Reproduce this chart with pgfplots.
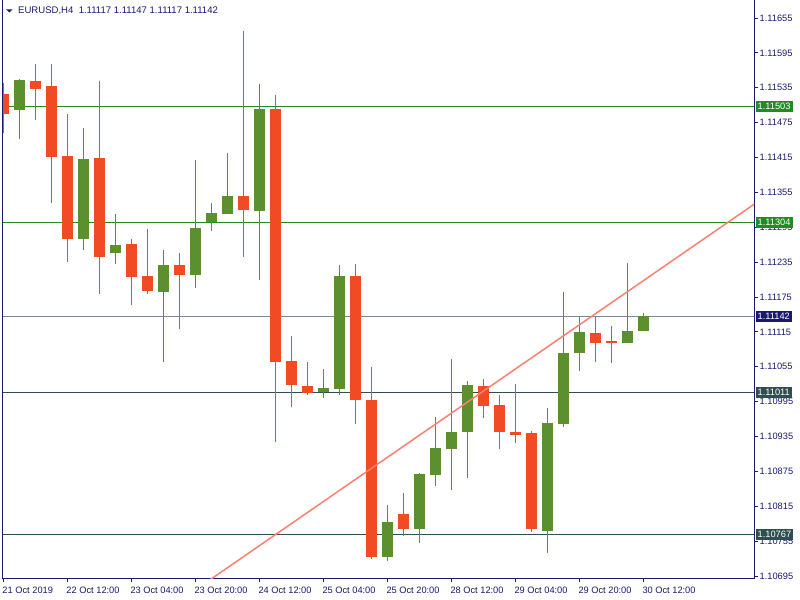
\documentclass[border=0pt]{standalone}
\usepackage{fontspec}
\setmainfont{Liberation Sans}
\usepackage{pgfplots}
\usepackage{pgfplotstable}
\pgfplotsset{compat=1.18}
\definecolor{cgreen}{RGB}{91,143,48}
\definecolor{cred}{RGB}{240,75,36}
\definecolor{lgreen}{RGB}{34,139,34}
\definecolor{slate}{RGB}{119,136,153}
\definecolor{dslate}{RGB}{47,79,79}
\definecolor{mnavy}{RGB}{25,25,112}
\definecolor{salmon}{RGB}{250,128,114}

\pgfplotstableread{
i o h l c
1 1.11497 1.11550 1.11446 1.11548
5 1.11275 1.11466 1.11256 1.11412
7 1.11250 1.11318 1.11232 1.11264
10 1.11184 1.11256 1.11064 1.11230
12 1.11213 1.11411 1.11191 1.11294
13 1.11304 1.11337 1.11289 1.11320
14 1.11318 1.11423 1.11318 1.11349
16 1.11323 1.11541 1.11205 1.11498
20 1.11012 1.11051 1.11002 1.11018
21 1.11016 1.11230 1.11007 1.11211
24 1.10728 1.10817 1.10721 1.10788
26 1.10775 1.10872 1.10752 1.10871
27 1.10868 1.10969 1.10849 1.10915
28 1.10914 1.11068 1.10843 1.10943
29 1.10942 1.11031 1.10864 1.11024
34 1.10773 1.10984 1.10735 1.10958
35 1.10957 1.11184 1.10952 1.11079
36 1.11079 1.11141 1.11047 1.11115
39 1.11095 1.11234 1.11095 1.11117
40 1.11117 1.11147 1.11117 1.11142
}\greentab

\pgfplotstableread{
i o h l c
0 1.11524 1.11544 1.11457 1.11490
2 1.11547 1.11576 1.11480 1.11533
3 1.11538 1.11576 1.11337 1.11416
4 1.11418 1.11490 1.11236 1.11274
6 1.11414 1.11547 1.11181 1.11243
8 1.11266 1.11275 1.11162 1.11210
9 1.11211 1.11292 1.11181 1.11186
11 1.11230 1.11251 1.11120 1.11212
15 1.11349 1.11633 1.11243 1.11325
17 1.11498 1.11522 1.10926 1.11063
18 1.11065 1.11108 1.10986 1.11024
19 1.11022 1.11063 1.11007 1.11010
22 1.11211 1.11232 1.10957 1.10998
23 1.10998 1.11055 1.10725 1.10728
25 1.10802 1.10838 1.10763 1.10775
30 1.11022 1.11034 1.10966 1.10988
31 1.10989 1.11006 1.10914 1.10942
32 1.10943 1.11025 1.10923 1.10938
33 1.10941 1.10945 1.10771 1.10775
37 1.11113 1.11141 1.11064 1.11096
38 1.11099 1.11125 1.11062 1.11095
}\redtab

\begin{document}
\begin{tikzpicture}
\path[use as bounding box] (0,0) rectangle (800bp,600bp);
\begin{axis}[
  at={(2bp,21bp)}, anchor=south west,
  scale only axis, width=752bp, height=579bp,
  xmin=-0.08125, xmax=46.919, ymin=1.106898, ymax=1.116860,
  axis x line*=bottom, axis y line*=right,
  axis line style={mnavy, line width=1bp},
  tick align=outside,
  major tick length=3.5bp,
  tick style={mnavy, line width=0.8bp},
  clip mode=individual,
  font=\fontsize{9.3}{10}\selectfont,
  /pgf/number format/assume math mode=true,
  xtick={0,4,8,12,16,20,24,28,32,36,40},
  xticklabels={21 Oct 2019,22 Oct 12:00,23 Oct 04:00,23 Oct 20:00,24 Oct 12:00,25 Oct 04:00,25 Oct 20:00,28 Oct 12:00,29 Oct 04:00,29 Oct 20:00,30 Oct 12:00},
  xticklabel style={anchor=north west, text=mnavy, inner sep=0pt, xshift=-1bp, yshift=-4bp},
  ytick={1.10695,1.10755,1.10815,1.10875,1.10935,1.10995,1.11055,1.11115,1.11175,1.11235,1.11295,1.11355,1.11415,1.11475,1.11535,1.11595,1.11655},
  yticklabels={1.10695,1.10755,1.10815,1.10875,1.10935,1.10995,1.11055,1.11115,1.11175,1.11235,1.11295,1.11355,1.11415,1.11475,1.11535,1.11595,1.11655},
  yticklabel style={anchor=west, text=mnavy, inner sep=0pt, xshift=2bp},
]
% horizontal levels
\addplot[lgreen, line width=1bp, forget plot] coordinates {(-1,1.11503) (48,1.11503)};
\addplot[lgreen, line width=1bp, forget plot] coordinates {(-1,1.11304) (48,1.11304)};
\addplot[slate, line width=1bp, forget plot] coordinates {(-1,1.11142) (48,1.11142)};
\addplot[dslate, line width=1bp, forget plot] coordinates {(-1,1.11011) (48,1.11011)};
\addplot[dslate, line width=1bp, forget plot] coordinates {(-1,1.10767) (48,1.10767)};
% wicks
\addplot[draw=none, mark=none, forget plot, error bars/.cd, y dir=plus, y explicit, error mark=none,
  error bar style={draw=cgreen, line width=1bp}]
  table[x=i, y=l, y error plus expr=\thisrow{h}-\thisrow{l}] {\greentab};
\addplot[draw=none, mark=none, forget plot, error bars/.cd, y dir=plus, y explicit, error mark=none,
  error bar style={draw=cred, line width=1bp}]
  table[x=i, y=l, y error plus expr=\thisrow{h}-\thisrow{l}] {\redtab};
% bodies
\addplot[draw=none, mark=none, forget plot, error bars/.cd, y dir=plus, y explicit, error mark=none,
  error bar style={draw=cgreen, line width=11bp}]
  table[x=i, y=o, y error plus expr=\thisrow{c}-\thisrow{o}] {\greentab};
\addplot[draw=none, mark=none, forget plot, error bars/.cd, y dir=plus, y explicit, error mark=none,
  error bar style={draw=cred, line width=11bp}]
  table[x=i, y=c, y error plus expr=\thisrow{o}-\thisrow{c}] {\redtab};
% trend line
\addplot[salmon, line width=1.5bp, forget plot] coordinates {(12,1.10671) (48,1.11355)};
% left border
\draw[mnavy, line width=1bp] (rel axis cs:0,0) -- (rel axis cs:0,1);
% price labels
\begin{scope}[every node/.style={anchor=west, text=white, inner xsep=2bp, inner ysep=0pt, minimum height=11bp, xshift=1.5bp, font=\fontsize{9.3}{10}\selectfont}]
\node[fill=lgreen] at (axis cs:46.919,1.11503) {1.11503};
\node[fill=lgreen] at (axis cs:46.919,1.11304) {1.11304};
\node[fill=mnavy] at (axis cs:46.919,1.11142) {1.11142};
\node[fill=dslate] at (axis cs:46.919,1.11011) {1.11011};
\node[fill=dslate] at (axis cs:46.919,1.10767) {1.10767};
\end{scope}
\end{axis}
% title
\fill[mnavy] (6bp,590.7bp) -- (12.7bp,590.7bp) -- (9.35bp,587.5bp) -- cycle;
\node[anchor=west, inner sep=0pt, text=mnavy, font=\fontsize{9.6}{10}\selectfont] at (18bp,589.3bp) {EURUSD,H4\ \ 1.11117 1.11147 1.11117 1.11142};
\end{tikzpicture}
\end{document}
